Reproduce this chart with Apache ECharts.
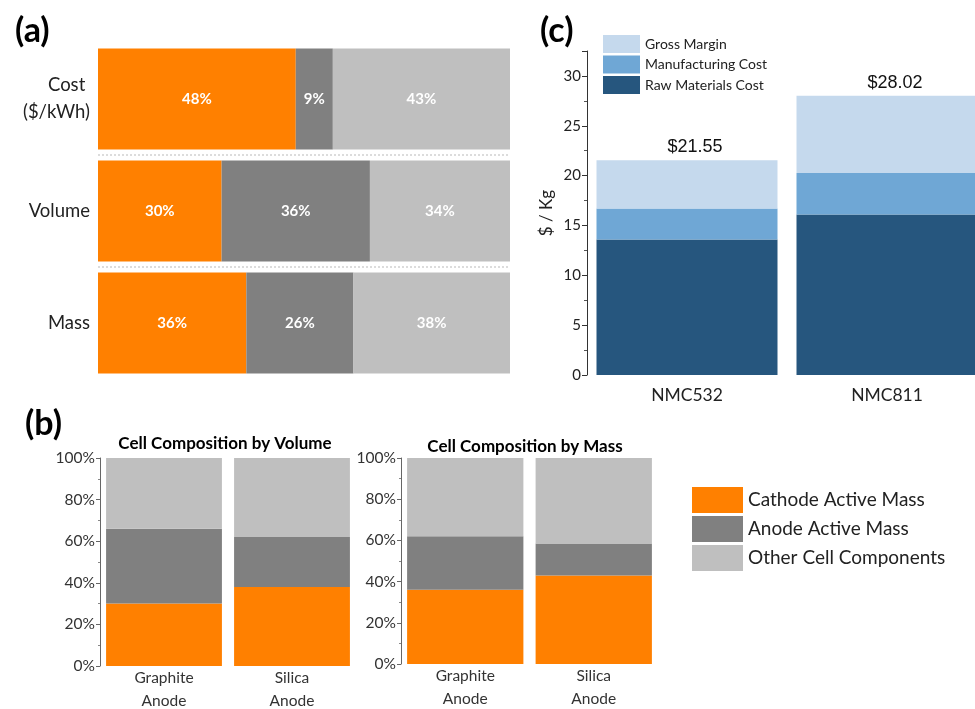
<!DOCTYPE html>
<html>
<head>
<meta charset="utf-8">
<title>Battery cell cost and composition</title>
<script src="https://cdn.jsdelivr.net/npm/echarts@6/dist/echarts.min.js"></script>
<style>
  html, body { margin: 0; padding: 0; background: #fff; }
  #main { width: 975px; height: 709px; }
</style>
</head>
<body>
<div id="main"></div>
<script>
// (a) share of cost / volume / mass, in %
var aCategories = ['Cost \n($/kWh)', 'Volume', 'Mass']
var aCathode = [48, 30, 36]
var aAnode = [9, 36, 26]
var aOther = [43, 34, 38]

// (b) cell composition, in %
var bCategories = ['Graphite\nAnode', 'Silica\nAnode']
var volCathode = [30, 38]
var volAnode = [36, 24]
var volOther = [34, 38]
var massCathode = [36, 43]
var massAnode = [26, 15.5]
var massOther = [38, 41.5]
var pctTicks = [0, 20, 40, 60, 80, 100]

// (c) price in $ / Kg
var cCategories = ['NMC532', 'NMC811']
var rawMaterials = [13.6, 16.1]
var manufacturing = [3.1, 4.15]
var grossMargin = [4.85, 7.77]
var priceTicks = [0, 5, 10, 15, 20, 25, 30]

var FONT = 'Lato, "Open Sans", sans-serif'
var ORANGE = '#FF8000'
var DARK = '#808080'
var LIGHT = '#BFBFBF'
var BLUE1 = '#26567E'
var BLUE2 = '#6FA7D5'
var BLUE3 = '#C5D9ED'

var chart = echarts.init(document.getElementById('main'), null, { renderer: 'canvas' })

function bar(name, data, color, idx, stack, width) {
  return {
    type: 'bar',
    name: name,
    data: data,
    stack: stack,
    xAxisIndex: idx,
    yAxisIndex: idx,
    barWidth: width,
    itemStyle: { color: color },
    emphasis: { disabled: true },
    animation: false
  }
}

function pctLabel() {
  return {
    show: true,
    position: 'inside',
    formatter: '{c}%',
    color: '#fff',
    fontWeight: 'bold',
    fontSize: 15,
    fontFamily: FONT
  }
}

function pctAxis(idx) {
  return {
    type: 'value',
    gridIndex: idx,
    min: pctTicks[0],
    max: pctTicks[pctTicks.length - 1],
    interval: pctTicks[1] - pctTicks[0],
    axisLine: { show: true, lineStyle: { color: '#666', width: 1 } },
    axisTick: { show: true, length: 4, lineStyle: { color: '#666' } },
    minorTick: { show: true, splitNumber: 2, length: 2, lineStyle: { color: '#888' } },
    splitLine: { show: false },
    axisLabel: { formatter: '{value}%', fontSize: 15.5, color: '#333', fontFamily: FONT, margin: 5 }
  }
}

function anodeAxis(idx) {
  return {
    type: 'category',
    gridIndex: idx,
    data: bCategories,
    axisLine: { show: false },
    axisTick: { show: false },
    axisLabel: { fontSize: 15.5, lineHeight: 23, color: '#333', fontFamily: FONT, margin: 0 }
  }
}

var series = [
  // (a)
  Object.assign(bar('Cathode Active Mass', aCathode, ORANGE, 0, 'a', '90%'), { label: pctLabel() }),
  Object.assign(bar('Anode Active Mass', aAnode, DARK, 0, 'a', '90%'), { label: pctLabel() }),
  Object.assign(bar('Other Cell Components', aOther, LIGHT, 0, 'a', '90%'), { label: pctLabel() }),
  // (b) volume
  bar('Cathode Active Mass', volCathode, ORANGE, 1, 'v', '90.5%'),
  bar('Anode Active Mass', volAnode, DARK, 1, 'v', '90.5%'),
  bar('Other Cell Components', volOther, LIGHT, 1, 'v', '90.5%'),
  // (b) mass
  bar('Cathode Active Mass', massCathode, ORANGE, 2, 'm', '90.5%'),
  bar('Anode Active Mass', massAnode, DARK, 2, 'm', '90.5%'),
  bar('Other Cell Components', massOther, LIGHT, 2, 'm', '90.5%'),
  // (c)
  bar('Raw Materials Cost', rawMaterials, BLUE1, 3, 'c', '90.5%'),
  bar('Manufacturing Cost', manufacturing, BLUE2, 3, 'c', '90.5%'),
  Object.assign(bar('Gross Margin', grossMargin, BLUE3, 3, 'c', '90.5%'), {
    label: {
      show: true,
      position: 'top',
      distance: 4,
      offset: [8, 0],
      color: '#111',
      fontSize: 18,
      fontFamily: '"Liberation Sans", Arial, sans-serif',
      formatter: function (p) {
        var i = p.dataIndex
        return '$' + (rawMaterials[i] + manufacturing[i] + grossMargin[i]).toFixed(2)
      }
    }
  })
]

chart.setOption({
  backgroundColor: '#fff',
  animation: false,
  textStyle: { fontFamily: FONT },
  title: [
    { text: '(a)', left: 10, top: 9, textStyle: { fontSize: 34, fontWeight: 'bold', color: '#000', fontFamily: FONT } },
    { text: '(b)', left: 20, top: 402, textStyle: { fontSize: 34, fontWeight: 'bold', color: '#000', fontFamily: FONT } },
    { text: '(c)', left: 535, top: 9, textStyle: { fontSize: 34, fontWeight: 'bold', color: '#000', fontFamily: FONT } },
    { text: 'Cell Composition by Volume', left: 225, top: 435, textAlign: 'center', padding: 0,
      textStyle: { fontSize: 17, fontWeight: 'bold', color: '#000', fontFamily: FONT } },
    { text: 'Cell Composition by Mass', left: 525, top: 438, textAlign: 'center', padding: 0,
      textStyle: { fontSize: 17, fontWeight: 'bold', color: '#000', fontFamily: FONT } }
  ],
  legend: [
    {
      orient: 'vertical',
      left: 692,
      top: 487,
      padding: 0,
      itemWidth: 51,
      itemHeight: 26,
      itemGap: 3,
      icon: 'rect',
      selectedMode: false,
      data: ['Cathode Active Mass', 'Anode Active Mass', 'Other Cell Components'],
      textStyle: { fontSize: 19, color: '#222', fontFamily: FONT }
    },
    {
      orient: 'vertical',
      left: 603,
      top: 35,
      padding: 0,
      itemWidth: 37,
      itemHeight: 18,
      itemGap: 2.5,
      icon: 'rect',
      selectedMode: false,
      data: ['Gross Margin', 'Manufacturing Cost', 'Raw Materials Cost'],
      textStyle: { fontSize: 14, color: '#222', fontFamily: FONT }
    }
  ],
  grid: [
    { left: 98, top: 43, width: 412, height: 336, outerBoundsMode: 'none' },
    { left: 100, top: 458, width: 256, height: 208, outerBoundsMode: 'none' },
    { left: 401, top: 458, width: 257, height: 206, outerBoundsMode: 'none' },
    { left: 587, top: 51, width: 400, height: 324, outerBoundsMode: 'none' }
  ],
  xAxis: [
    {
      type: 'value', gridIndex: 0, min: 0, max: 100,
      show: false
    },
    anodeAxis(1),
    anodeAxis(2),
    {
      type: 'category', gridIndex: 3, data: cCategories,
      axisLine: { show: false },
      axisTick: { show: false },
      axisLabel: { fontSize: 17.5, color: '#222', fontFamily: FONT, margin: 11 }
    }
  ],
  yAxis: [
    {
      type: 'category', gridIndex: 0, data: aCategories, inverse: true,
      axisLine: { show: false },
      axisTick: { show: false },
      axisLabel: { fontSize: 18.5, lineHeight: 27, color: '#222', fontFamily: FONT, margin: 8, align: 'right' },
      splitLine: {
        show: true, showMinLine: false, showMaxLine: false,
        lineStyle: { color: '#dcdcdc', width: 2, type: [2, 2] }
      }
    },
    pctAxis(1),
    pctAxis(2),
    {
      type: 'value', gridIndex: 3,
      min: priceTicks[0],
      max: 32.5,
      interval: priceTicks[1] - priceTicks[0],
      name: '$ / Kg',
      nameLocation: 'middle',
      nameGap: 32,
      nameTextStyle: { fontSize: 17, color: '#222', fontFamily: FONT },
      axisLine: { show: true, lineStyle: { color: '#333', width: 1 } },
      axisTick: { show: true, length: 5, lineStyle: { color: '#333' } },
      minorTick: { show: true, splitNumber: 2, length: 3, lineStyle: { color: '#555' } },
      splitLine: { show: false },
      axisLabel: {
        fontSize: 15, color: '#222', fontFamily: FONT, margin: 6,
        formatter: function (v) { return priceTicks.indexOf(v) >= 0 ? String(v) : '' }
      }
    }
  ],
  series: series
})
</script>
</body>
</html>
